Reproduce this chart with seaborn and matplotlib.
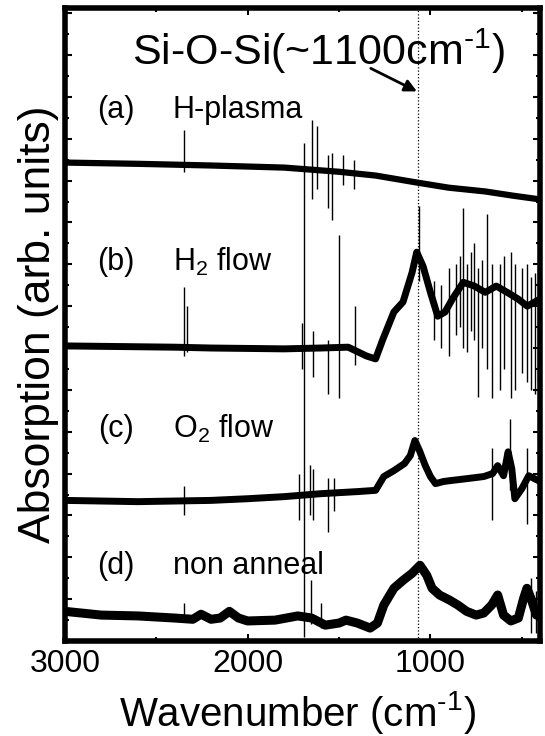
import numpy as np
import pandas as pd
import seaborn as sns
import matplotlib.pyplot as plt
from matplotlib.ticker import MultipleLocator

# spectra (wavenumber in cm-1, absorption in arb. units)
wn_a = [3000, 2600, 2200, 1800, 1500, 1300, 1070, 900, 700, 550, 400]
abs_a = [11.43, 11.40, 11.36, 11.31, 11.21, 11.12, 10.95, 10.83, 10.74, 10.64, 10.55]

wn_b = [3000, 2600, 2400, 2200, 2000, 1800, 1600, 1450, 1350, 1300, 1260, 1200, 1150, 1100,
        1075, 1040, 1000, 960, 920, 880, 820, 760, 700, 640, 580, 520, 470, 400]
abs_b = [7.05, 7.03, 7.02, 7.00, 6.99, 6.98, 7.00, 7.02, 6.81, 6.74, 7.21, 7.86, 8.10, 8.81,
         9.29, 8.95, 8.33, 7.76, 7.86, 8.17, 8.57, 8.48, 8.33, 8.48, 8.33, 8.17, 8.00, 8.17]

wn_c = [3000, 2600, 2200, 2000, 1800, 1600, 1400, 1300, 1255, 1200, 1142, 1110, 1085, 1060,
        1028, 1000, 972, 930, 896, 800, 708, 660, 632, 600, 575, 555, 538, 500, 462, 400]
abs_c = [3.36, 3.33, 3.36, 3.40, 3.45, 3.52, 3.57, 3.60, 3.93, 4.07, 4.24, 4.43, 4.79, 4.55,
         4.19, 3.93, 3.76, 3.81, 3.83, 3.88, 3.93, 4.00, 4.19, 3.95, 4.52, 4.12, 3.40, 3.64, 3.95, 3.81]

wn_d = [3000, 2800, 2600, 2400, 2300, 2255, 2200, 2150, 2100, 2050, 2000, 1850, 1726, 1650,
        1575, 1500, 1462, 1400, 1330, 1290, 1255, 1200, 1150, 1100, 1057, 1020, 991, 950, 896,
        850, 802, 750, 708, 665, 632, 600, 560, 519, 490, 472, 450, 420, 400]
abs_d = [0.71, 0.62, 0.60, 0.55, 0.52, 0.64, 0.52, 0.55, 0.71, 0.55, 0.48, 0.50, 0.60, 0.55,
         0.38, 0.43, 0.50, 0.43, 0.31, 0.43, 0.86, 1.26, 1.45, 1.62, 1.81, 1.57, 1.26, 1.10, 0.98,
         0.86, 0.71, 0.62, 0.67, 0.86, 1.10, 0.62, 0.48, 0.55, 1.02, 1.26, 1.02, 0.62, 0.71]

# sharp spikes: position, lower end, upper end
spike_wn = [2350, 1690, 1650, 1620, 1560, 1540, 1480, 1420,
            2350, 2330, 1700, 1640, 1560, 1500, 1415, 1060, 980, 940, 900, 860, 840, 821, 800,
            780, 760, 740, 720, 689, 665, 620, 600, 560, 540, 500, 470, 450, 430, 410,
            2350, 1720, 1660, 1640, 1560, 1530, 665, 566, 470,
            2350, 1651, 1600, 450, 420]
spike_lo = [11.2, 0.1, 10.55, 10.8, 10.35, 10.07, 10.9, 10.8,
            6.8, 6.9, 6.5, 6.3, 5.9, 5.8, 6.6, 8.6, 7.2, 7.0, 6.8, 7.3, 7.5, 7.0, 6.9,
            7.4, 7.2, 5.83, 7.0, 6.5, 5.8, 6.0, 6.5, 5.8, 6.0, 6.4, 6.2, 6.0, 5.9, 6.2,
            3.0, 2.9, 3.0, 2.9, 2.6, 3.1, 2.9, 3.6, 2.8,
            0.5, 0.4, 0.3, 0.2, 0.2]
spike_hi = [12.2, 11.9, 12.45, 12.3, 11.6, 11.67, 11.6, 11.5,
            8.45, 8.0, 7.6, 7.4, 7.2, 9.7, 8.0, 10.4, 8.6, 8.5, 8.9, 9.0, 9.2, 10.35, 9.0,
            9.3, 9.5, 8.9, 9.1, 10.2, 9.0, 9.0, 9.2, 9.3, 9.0, 8.9, 9.0, 8.7, 8.8, 8.9,
            3.7, 4.0, 4.2, 4.1, 3.9, 3.9, 4.6, 5.3, 4.6,
            0.9, 1.45, 0.9, 1.5, 1.2]

labels = ["(a)", "(b)", "(c)", "(d)"]
names = ["H-plasma", "H$_2$ flow", "O$_2$ flow", "non anneal"]
label_y = [12.69, 9.05, 5.07, 1.79]

sns.set_style("ticks")
plt.rcParams['font.family'] = ['Liberation Sans', 'DejaVu Sans']
plt.rcParams['mathtext.fontset'] = 'custom'
plt.rcParams['mathtext.rm'] = 'Liberation Sans'
plt.rcParams['mathtext.it'] = 'Liberation Sans'
plt.rcParams['text.color'] = 'black'
plt.rcParams['axes.labelcolor'] = 'black'
plt.rcParams['axes.edgecolor'] = 'black'
plt.rcParams['xtick.color'] = 'black'
plt.rcParams['ytick.color'] = 'black'

fig = plt.figure(figsize=(5.45, 7.36), dpi=100)
ax = fig.add_axes([0.119, 0.129, 0.872, 0.860])

widths = [4.5, 5.0, 5.0, 6.5]
for wn, ab, lw in zip([wn_a, wn_b, wn_c, wn_d], [abs_a, abs_b, abs_c, abs_d], widths):
    df = pd.DataFrame({"wn": wn, "abs": ab})
    sns.lineplot(data=df, x="wn", y="abs", color="black", lw=lw, sort=False, ax=ax)

ax.vlines(spike_wn, spike_lo, spike_hi, color="black", lw=1.0)
ax.axvline(1070, color="black", ls=":", lw=0.9)

ax.set_xlim(3000, 400)
ax.set_ylim(0, 15.12)
ax.xaxis.set_major_locator(MultipleLocator(1000))
ax.xaxis.set_minor_locator(MultipleLocator(500))
ax.yaxis.set_major_locator(MultipleLocator(1))
ax.yaxis.set_minor_locator(MultipleLocator(0.5))
ax.tick_params(which="both", direction="in", top=True, right=True, width=1.5)
ax.tick_params(which="major", length=5)
ax.tick_params(which="minor", length=3)
ax.tick_params(axis="y", labelleft=False)
ax.tick_params(axis="x", labelsize=23, pad=6)
for s in ax.spines.values():
    s.set_linewidth(4)

ax.set_xlabel("Wavenumber (cm$^{\\text{-}1}$)", fontsize=29)
ax.xaxis.set_label_coords(0.49, -0.075)
ax.set_ylabel("Absorption (arb. units)", fontsize=32)
ax.yaxis.set_label_coords(-0.013, 0.5)

for lab, name, y in zip(labels, names, label_y):
    ax.text(2720, y, lab, fontsize=22, ha="center", va="center")
    ax.text(2410, y, name, fontsize=22, ha="left", va="center")

ax.text(2635, 13.76, "Si-O-Si(~1100cm$^{\\text{-}1}$)", fontsize=31, ha="left", va="baseline")
ax.annotate("", xy=(1060, 13.1), xytext=(1340, 13.71),
            arrowprops=dict(arrowstyle="-|>", color="black", lw=2, mutation_scale=18))

fig.savefig("out.png", dpi=100)
